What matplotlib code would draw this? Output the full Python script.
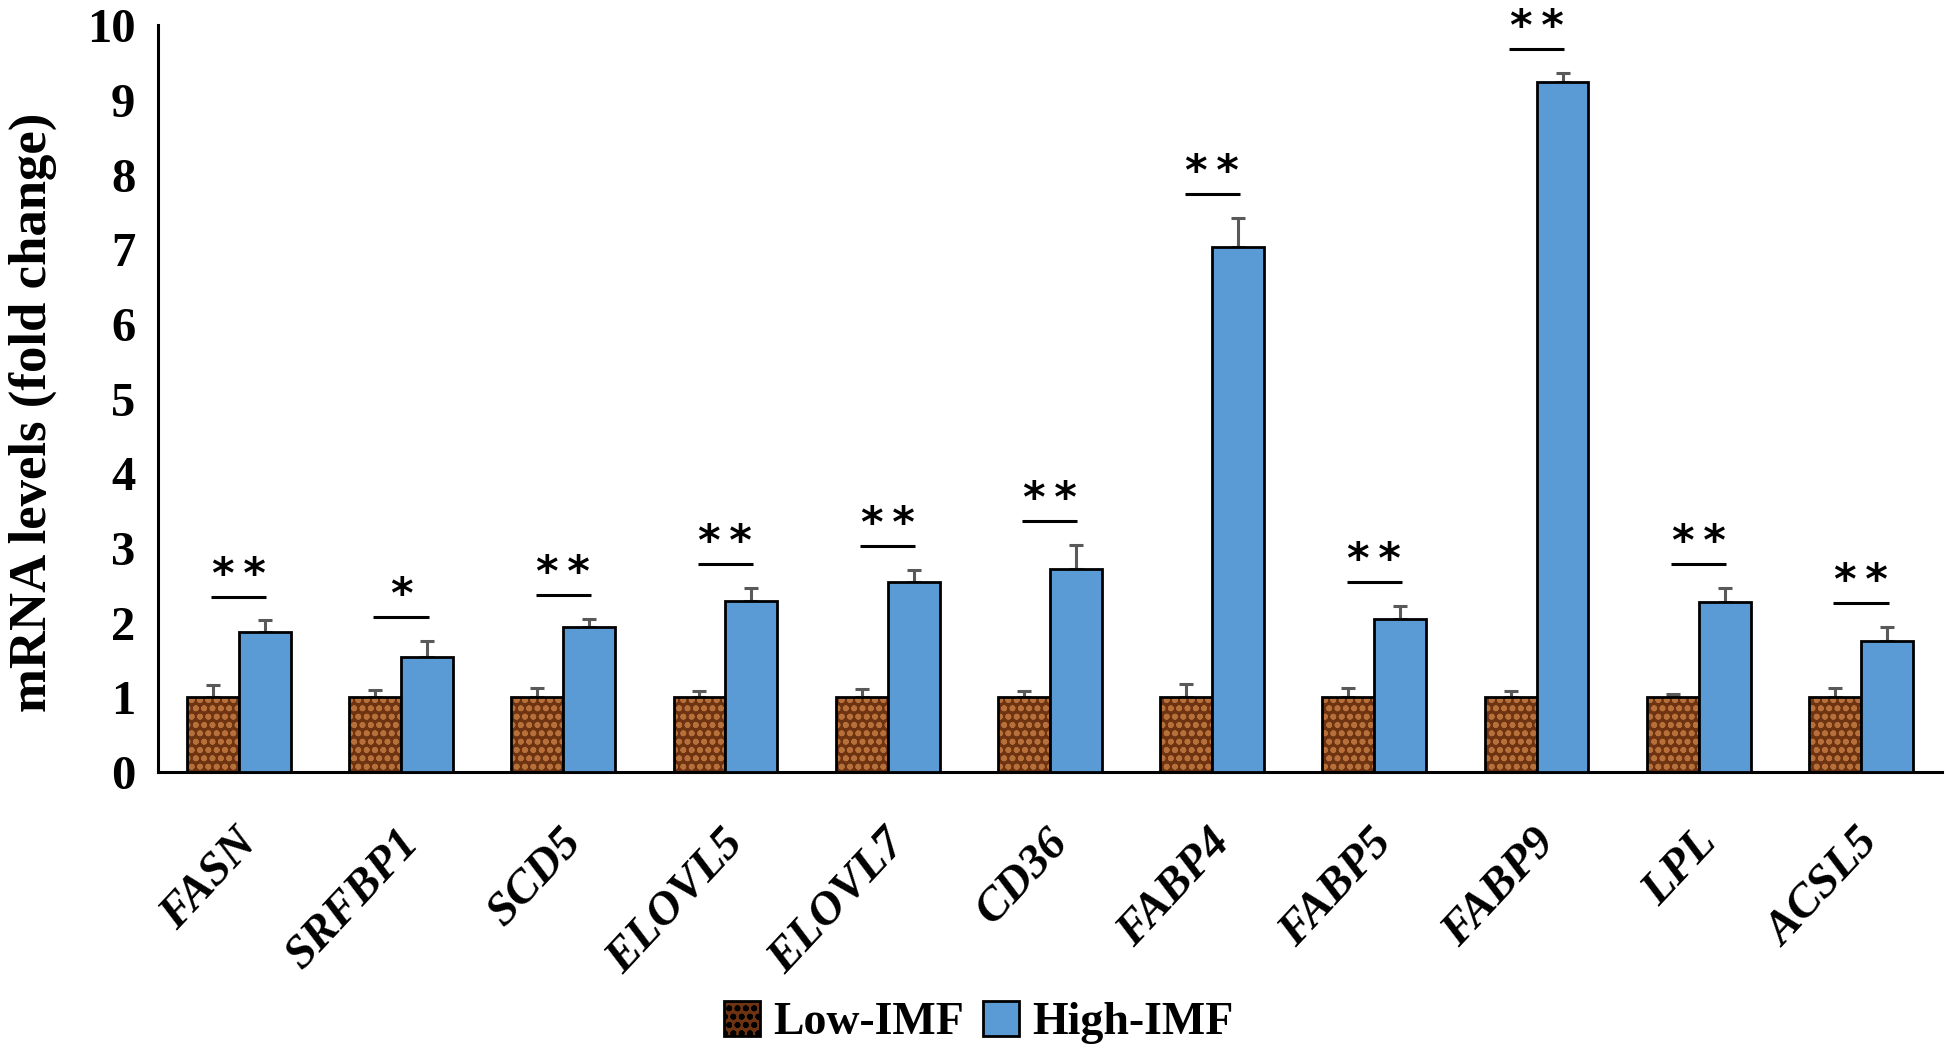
import numpy as np
import matplotlib
matplotlib.use("Agg")
import matplotlib.pyplot as plt
import matplotlib.transforms as mtransforms
from matplotlib.patches import Patch

genes = ["FASN", "SRFBP1", "SCD5", "ELOVL5", "ELOVL7", "CD36",
         "FABP4", "FABP5", "FABP9", "LPL", "ACSL5"]
low_imf = [1.0, 1.0, 1.0, 1.0, 1.0, 1.0, 1.0, 1.0, 1.0, 1.0, 1.0]
low_err = [0.17, 0.10, 0.12, 0.08, 0.11, 0.08, 0.18, 0.13, 0.08, 0.05, 0.13]
high_imf = [1.87, 1.54, 1.94, 2.29, 2.55, 2.72, 7.03, 2.05, 9.24, 2.28, 1.75]
high_err = [0.16, 0.21, 0.11, 0.18, 0.16, 0.32, 0.39, 0.18, 0.12, 0.19, 0.19]
signif = ["**", "*", "**", "**", "**", "**", "**", "**", "**", "**", "**"]
yticks = [0, 1, 2, 3, 4, 5, 6, 7, 8, 9, 10]

SERIF = ["Liberation Serif", "DejaVu Serif"]
plt.rcParams["hatch.linewidth"] = 1.8

fig = plt.figure(figsize=(19.46, 10.49), dpi=100)
ax = fig.add_axes([0.081, 0.264, 0.917, 0.712])

x = np.arange(len(genes))
w = 0.32
brown = "#6E3311"
spots = "#B8703A"
blue = "#5B9BD5"

# textured brown bars (texture layer then outline)
ax.bar(x - w / 2, low_imf, w, color=brown, hatch="oo", edgecolor=spots,
       linewidth=0, zorder=2)
ax.bar(x - w / 2, low_imf, w, facecolor="none", edgecolor="black",
       linewidth=2.0, zorder=3)
ax.bar(x + w / 2, high_imf, w, color=blue, edgecolor="black",
       linewidth=2.0, zorder=3)

ax.errorbar(x - w / 2, low_imf, yerr=[np.zeros(len(x)), low_err], fmt="none",
            ecolor="#595959", elinewidth=2.2, capsize=4.7, capthick=2.2, zorder=1)
ax.errorbar(x + w / 2, high_imf, yerr=[np.zeros(len(x)), high_err], fmt="none",
            ecolor="#595959", elinewidth=2.2, capsize=4.7, capthick=2.2, zorder=1)

for xi, h, e, s in zip(x, high_imf, high_err, signif):
    ly = h + e + 0.32
    ax.plot([xi - 0.17, xi + 0.17], [ly, ly], color="black", lw=2.2,
            solid_capstyle="butt", zorder=4)
    ax.annotate(s.replace("**", "*\u2009*"), (xi, ly), xytext=(0, 0),
                textcoords="offset points", ha="center", va="bottom",
                fontsize=31, fontweight="bold", family="DejaVu Sans", zorder=4)

ax.set_xlim(-0.5, len(genes) - 0.5)
ax.set_ylim(0, 10)
ax.set_yticks(yticks)
ax.set_yticklabels([str(t) for t in yticks], fontsize=35, fontweight="bold",
                   family=SERIF)
ax.tick_params(axis="y", length=0, pad=16)
ax.set_xticks(x)
ax.set_xticklabels(genes, rotation=47, ha="right", va="top",
                   rotation_mode="anchor", fontsize=34, fontweight="bold",
                   fontstyle="italic", family=SERIF)
ax.tick_params(axis="x", length=0, pad=36)
shift = mtransforms.ScaledTranslation(-4 / 100, 0, fig.dpi_scale_trans)
for lab in ax.get_xticklabels():
    lab.set_transform(lab.get_transform() + shift)

for sp in ["top", "right"]:
    ax.spines[sp].set_visible(False)
for sp in ["left", "bottom"]:
    ax.spines[sp].set_linewidth(2.2)
    ax.spines[sp].set_color("black")

fig.text(0.017, 0.607, "mRNA levels (fold change)", rotation=90, ha="center",
         va="center", fontsize=38, fontweight="bold", family=SERIF)

handles = [Patch(facecolor=brown, hatch="oo", edgecolor="black", linewidth=2),
           Patch(facecolor=blue, edgecolor="black", linewidth=2)]
leg = fig.legend(handles, ["Low-IMF", "High-IMF"], loc="lower center",
                 bbox_to_anchor=(0.503, -0.035), ncol=2, frameon=False,
                 handlelength=0.78, handleheight=0.78, handletextpad=0.3,
                 columnspacing=0.4,
                 prop={"family": SERIF, "weight": "bold", "size": 33})

fig.savefig("out.png", dpi=100)
